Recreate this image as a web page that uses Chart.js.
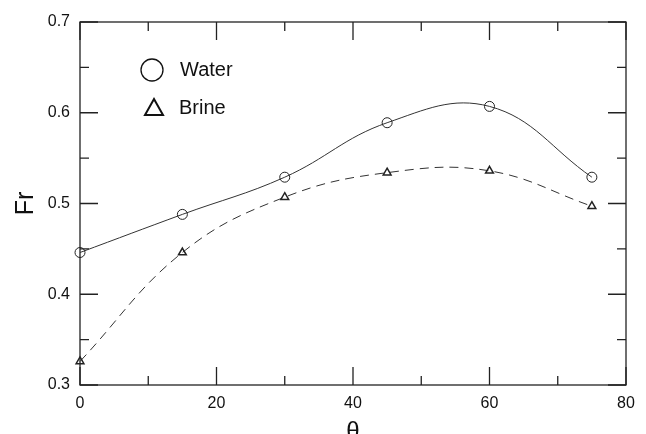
<!DOCTYPE html>
<html>
<head>
<meta charset="utf-8">
<script src="https://cdn.jsdelivr.net/npm/chart.js@4"></script>
<style>
  html, body { margin: 0; padding: 0; background: #fff; }
  canvas { display: block; }
</style>
</head>
<body>
<canvas id="chart" width="646" height="434"></canvas>
<script>
// inclination angle (deg) and Froude number for both fluids
const angles = [0, 15, 30, 45, 60, 75];
const waterFr = [0.446, 0.488, 0.529, 0.589, 0.607, 0.529];
const brineFr = [0.326, 0.446, 0.507, 0.534, 0.536, 0.497];

const seriesNames = ['Water', 'Brine'];

const xTicks = [0, 20, 40, 60, 80];
const yTicks = [0.3, 0.4, 0.5, 0.6, 0.7];
const xMinorTicks = [10, 30, 50, 70];
const yMinorTicks = [0.35, 0.45, 0.55, 0.65];

const FONT = '"Liberation Sans", Arial, sans-serif';
const INK = '#222';

const toPoints = ys => angles.map((x, i) => ({ x, y: ys[i] }));

// box around the plot with inward ticks on all four sides
const framePlugin = {
    id: 'frame',
    beforeDatasetsDraw(chart) {
        const { ctx, chartArea: a, scales: { x, y } } = chart;
        ctx.save();
        ctx.strokeStyle = INK;
        ctx.lineWidth = 1.3;
        ctx.strokeRect(a.left, a.top, a.right - a.left, a.bottom - a.top);

        const tickX = (v, len) => {
            const px = x.getPixelForValue(v);
            ctx.moveTo(px, a.bottom); ctx.lineTo(px, a.bottom - len);
            ctx.moveTo(px, a.top); ctx.lineTo(px, a.top + len);
        };
        const tickY = (v, len) => {
            const py = y.getPixelForValue(v);
            ctx.moveTo(a.left, py); ctx.lineTo(a.left + len, py);
            ctx.moveTo(a.right, py); ctx.lineTo(a.right - len, py);
        };
        ctx.beginPath();
        xTicks.forEach(v => tickX(v, 18));
        xMinorTicks.forEach(v => tickX(v, 9));
        yTicks.forEach(v => tickY(v, 18));
        yMinorTicks.forEach(v => tickY(v, 9));
        ctx.stroke();
        ctx.restore();
    },
    afterDraw(chart) {
        const { ctx, chartArea: a } = chart;
        ctx.save();
        ctx.fillStyle = '#111';
        ctx.strokeStyle = '#111';

        // axis titles
        ctx.textAlign = 'center';
        ctx.textBaseline = 'middle';
        ctx.font = '25px ' + FONT;
        ctx.save();
        ctx.translate(26, (a.top + a.bottom) / 2);
        ctx.rotate(-Math.PI / 2);
        ctx.fillText('Fr', 0, 0);
        ctx.restore();
        ctx.font = '24px ' + FONT;
        ctx.textBaseline = 'alphabetic';
        ctx.fillText('θ', (a.left + a.right) / 2, 439);

        // legend
        const lx = a.left + 72;
        ctx.lineWidth = 1.3;
        ctx.beginPath();
        ctx.arc(lx, a.top + 48, 11, 0, Math.PI * 2);
        ctx.stroke();
        ctx.lineWidth = 2;
        ctx.beginPath();
        ctx.moveTo(lx - 7, a.top + 93);
        ctx.lineTo(lx + 11, a.top + 93);
        ctx.lineTo(lx + 2, a.top + 77);
        ctx.closePath();
        ctx.stroke();
        ctx.font = '20px ' + FONT;
        ctx.textAlign = 'left';
        ctx.textBaseline = 'middle';
        ctx.fillText(seriesNames[0], lx + 28, a.top + 48);
        ctx.fillText(seriesNames[1], lx + 27, a.top + 86);
        ctx.restore();
    }
};

Chart.defaults.font.family = FONT;
Chart.defaults.color = '#111';

new Chart(document.getElementById('chart'), {
    type: 'line',
    data: {
        datasets: [{
            label: seriesNames[0],
            data: toPoints(waterFr),
            borderColor: '#333',
            borderWidth: 1,
            tension: 0.4,
            fill: false,
            clip: false,
            pointStyle: 'circle',
            pointRadius: 5,
            pointBorderWidth: 1,
            pointBorderColor: INK,
            pointBackgroundColor: 'rgba(0,0,0,0)'
        }, {
            label: seriesNames[1],
            data: toPoints(brineFr),
            borderColor: '#333',
            borderWidth: 1,
            borderDash: [9, 6],
            tension: 0.4,
            fill: false,
            clip: false,
            pointStyle: 'triangle',
            pointRadius: 4.5,
            pointBorderWidth: 1.5,
            pointBorderColor: INK,
            pointBackgroundColor: 'rgba(0,0,0,0)'
        }]
    },
    options: {
        responsive: false,
        animation: false,
        layout: { padding: { top: 22, right: 20, left: 0, bottom: 0 } },
        plugins: {
            legend: { display: false },
            tooltip: { enabled: false }
        },
        scales: {
            x: {
                type: 'linear',
                min: 0,
                max: 80,
                grid: { display: false, drawTicks: false },
                border: { display: false },
                ticks: { font: { size: 16 }, padding: 9 },
                afterBuildTicks: s => { s.ticks = xTicks.map(v => ({ value: v })); },
                afterFit: s => { s.height = 49; }
            },
            y: {
                min: 0.3,
                max: 0.7,
                grid: { display: false, drawTicks: false },
                border: { display: false },
                ticks: { font: { size: 16 }, padding: 10, callback: v => v.toFixed(1) },
                afterBuildTicks: s => { s.ticks = yTicks.map(v => ({ value: v })); },
                afterFit: s => { s.width = 80; }
            }
        }
    },
    plugins: [framePlugin]
});
</script>
</body>
</html>
